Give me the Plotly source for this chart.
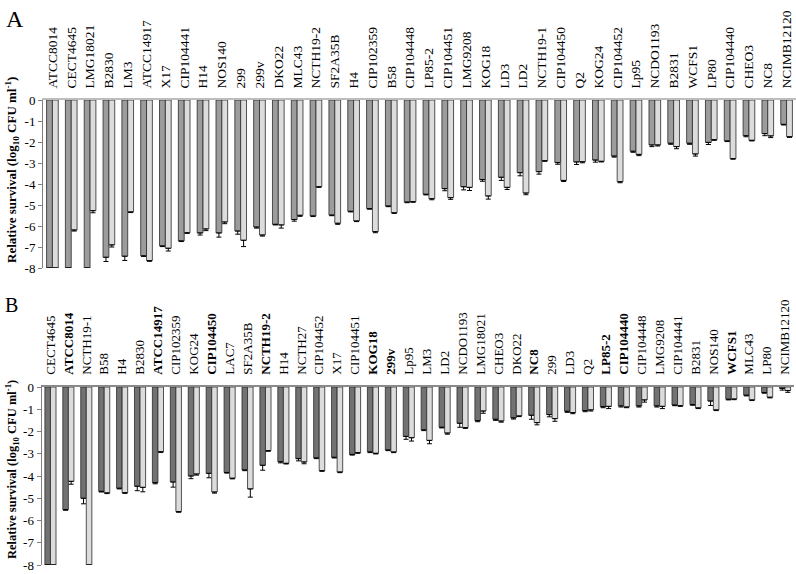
import plotly.graph_objects as go

# ---------------- Panel A data ----------------
names_A = ["ATCC8014", "CECT4645", "LMG18021", "B2830", "LM3", "ATCC14917", "X17", "CIP104441",
           "H14", "NOS140", "299", "299v", "DKO22", "MLC43", "NCTH19-2", "SF2A35B", "H4",
           "CIP102359", "B58", "CIP104448", "LP85-2", "CIP104451", "LMG9208", "KOG18", "LD3",
           "LD2", "NCTH19-1", "CIP104450", "Q2", "KOG24", "CIP104452", "Lp95", "NCDO1193",
           "B2831", "WCFS1", "LP80", "CIP104440", "CHEO3", "NC8", "NCIMB12120"]
dark_A = [-8, -8, -8, -7.49, -7.44, -7.42, -6.95, -6.71, -6.33, -6.33, -6.24, -6.05, -5.92,
          -5.69, -5.52, -5.48, -5.30, -5.17, -5.05, -4.86, -4.49, -4.22, -4.13, -3.79, -3.68,
          -3.46, -3.41, -2.98, -2.95, -2.86, -2.67, -2.44, -2.14, -2.06, -2.06, -2.02, -1.95,
          -1.70, -1.60, -1.16]
light_A = [-8, -6.19, -5.27, -6.90, -5.33, -7.65, -7.06, -6.32, -6.14, -5.81, -6.68, -6.43,
           -5.95, -5.49, -4.13, -5.87, -5.76, -6.27, -5.37, -4.84, -4.70, -4.65, -4.16, -4.57,
           -4.16, -4.43, -2.89, -3.83, -2.94, -2.92, -3.89, -2.59, -2.14, -2.22, -2.57, -1.89,
           -2.79, -1.92, -1.71, -1.75]
err_dark_A = [0, 0, 0, 0.2, 0.2, 0.03, 0.03, 0.03, 0.1, 0.2, 0.15, 0.05, 0.03, 0.08, 0.03,
              0.03, 0.03, 0.03, 0.03, 0.03, 0.03, 0.1, 0.15, 0.08, 0.15, 0.15, 0.12, 0.08,
              0.12, 0.1, 0.05, 0.05, 0.08, 0.05, 0.05, 0.1, 0.03, 0.05, 0.1, 0.03]
err_light_A = [0, 0.05, 0.1, 0.1, 0.03, 0.03, 0.13, 0.03, 0.08, 0.08, 0.3, 0.05, 0.15, 0.05,
               0.03, 0.05, 0.03, 0.05, 0.03, 0.03, 0.05, 0.08, 0.15, 0.15, 0.1, 0.08, 0.03,
               0.05, 0.05, 0.03, 0.05, 0.06, 0.05, 0.1, 0.1, 0.03, 0.03, 0.03, 0.08, 0.03]

# ---------------- Panel B data ----------------
names_B = ["CECT4645", "ATCC8014", "NCTH19-1", "B58", "H4", "B2830", "ATCC14917", "CIP102359",
           "KOG24", "CIP104450", "LAC7", "SF2A35B", "NCTH19-2", "H14", "NCTH27", "CIP104452",
           "X17", "CIP104451", "KOG18", "299v", "Lp95", "LM3", "LD2", "NCDO1193", "LMG18021",
           "CHEO3", "DKO22", "NC8", "299", "LD3", "Q2", "LP85-2", "CIP104440", "CIP104448",
           "LMG9208", "CIP104441", "B2831", "NOS140", "WCFS1", "MLC43", "LP80", "NCIMB12120"]
bold_B = ["ATCC8014", "ATCC14917", "CIP104450", "NCTH19-2", "KOG18", "299v", "NC8",
          "LP85-2", "CIP104440", "WCFS1"]
dark_B = [-8, -5.51, -5.00, -4.69, -4.55, -4.46, -4.30, -4.27, -4.00, -3.88, -3.84, -3.73,
          -3.52, -3.36, -3.22, -3.19, -3.16, -3.03, -2.92, -2.83, -2.22, -1.93, -1.81, -1.63,
          -1.51, -1.45, -1.39, -1.27, -1.24, -1.09, -1.06, -0.88, -0.85, -0.85, -0.85, -0.81,
          -0.79, -0.63, -0.55, -0.37, -0.25, -0.06]
light_B = [-8, -4.24, -8, -4.76, -4.75, -4.51, -2.91, -5.60, -3.91, -4.72, -4.10, -4.58,
           -2.86, -3.43, -3.37, -3.76, -3.82, -2.95, -2.98, -2.92, -2.28, -2.40, -2.07, -1.83,
           -1.08, -1.53, -1.30, -1.60, -1.42, -1.15, -1.03, -0.87, -0.90, -0.58, -0.87, -0.84,
           -0.94, -1.03, -0.54, -0.58, -0.46, -0.16]
err_dark_B = [0, 0.03, 0.25, 0.03, 0.03, 0.2, 0.05, 0.23, 0.12, 0.2, 0.03, 0.03, 0.22, 0.05,
              0.1, 0.03, 0.03, 0.03, 0.03, 0.03, 0.13, 0.03, 0.03, 0.18, 0.05, 0.05, 0.05,
              0.18, 0.1, 0.05, 0.05, 0.05, 0.05, 0.05, 0.05, 0.03, 0.03, 0.2, 0.03, 0.03,
              0.03, 0.08]
err_light_B = [0, 0.13, 0, 0.03, 0.03, 0.2, 0.03, 0.03, 0.05, 0.05, 0.03, 0.37, 0.03, 0.03,
               0.08, 0.03, 0.03, 0.03, 0.03, 0.03, 0.15, 0.15, 0.05, 0.03, 0.1, 0.05, 0.03,
               0.1, 0.12, 0.05, 0.05, 0.1, 0.03, 0.1, 0.1, 0.03, 0.03, 0.03, 0.03, 0.03, 0.03,
               0.08]

y_ticks = [0, -1, -2, -3, -4, -5, -6, -7, -8]

W, H = 796, 574
FONT = "Liberation Serif, Times New Roman, serif"
EDGE = dict(color="#2a2a2a", width=0.8)


def err(arr):
    return dict(type="data", symmetric=False, array=[0] * len(arr), arrayminus=arr,
                color="#000000", thickness=1, width=2.5)


fig = go.Figure()
fig.add_bar(x=names_A, y=dark_A, marker=dict(color="#9c9c9c", line=EDGE),
            error_y=err(err_dark_A), xaxis="x", yaxis="y", showlegend=False)
fig.add_bar(x=names_A, y=light_A, marker=dict(color="#dcdcdc", line=EDGE),
            error_y=err(err_light_A), xaxis="x", yaxis="y", showlegend=False)
fig.add_bar(x=names_B, y=dark_B, marker=dict(color="#727272", line=EDGE),
            error_y=err(err_dark_B), xaxis="x2", yaxis="y2", showlegend=False)
fig.add_bar(x=names_B, y=light_B, marker=dict(color="#dcdcdc", line=EDGE),
            error_y=err(err_light_B), xaxis="x2", yaxis="y2", showlegend=False)

text_B = ["<b>%s</b>" % n if n in bold_B else n for n in names_B]


def ypx(p):
    return 1 - p / H


yaxis_common = dict(range=[-8, 0], tickvals=y_ticks, ticktext=[str(v) for v in y_ticks],
                    showgrid=False, zeroline=False, showline=True, linecolor="#808080",
                    linewidth=1, ticks="outside", ticklen=4, tickcolor="#808080",
                    automargin=False,
                    tickfont=dict(family=FONT, size=13, color="#000"), fixedrange=True)

fig.update_layout(
    width=W, height=H,
    margin=dict(l=0, r=0, t=0, b=0, autoexpand=False),
    paper_bgcolor="white", plot_bgcolor="white",
    barmode="group", bargap=0.38, bargroupgap=0,
    font=dict(family=FONT, color="#000"),
    xaxis=dict(domain=[43 / W, 796 / W], anchor="y", side="top", type="category",
               categoryorder="array", categoryarray=names_A, automargin=False,
               showline=True, linecolor="#bdbdbd", linewidth=1.5, ticks="",
               tickangle=-90, ticklabelstandoff=7,
               tickfont=dict(family=FONT, size=13.5, color="#000"), showgrid=False),
    yaxis=dict(domain=[ypx(268), ypx(100)], anchor="x", **yaxis_common),
    xaxis2=dict(domain=[41.5 / W, 794 / W], anchor="y2", side="top", type="category",
                categoryorder="array", categoryarray=names_B, automargin=False,
                tickvals=names_B, ticktext=text_B,
                showline=True, linecolor="#8a8a8a", linewidth=1.5, ticks="",
                tickangle=-90, ticklabelstandoff=8,
                tickfont=dict(family=FONT, size=13, color="#000"), showgrid=False),
    yaxis2=dict(domain=[ypx(565), ypx(387)], anchor="x2", **yaxis_common),
)

title_txt = "<b>Relative survival (log<sub>10</sub> CFU ml<sup>-1</sup>)</b>"
fig.add_annotation(text=title_txt, textangle=-90, xref="paper", yref="paper",
                   x=12 / W, y=ypx(170), showarrow=False, xanchor="center", yanchor="middle",
                   font=dict(family=FONT, size=13, color="#000"))
fig.add_annotation(text=title_txt, textangle=-90, xref="paper", yref="paper",
                   x=12 / W, y=ypx(470), showarrow=False, xanchor="center", yanchor="middle",
                   font=dict(family=FONT, size=12.5, color="#000"))
fig.add_annotation(text="A", xref="paper", yref="paper", x=4 / W, y=ypx(4),
                   showarrow=False, xanchor="left", yanchor="top",
                   font=dict(family=FONT, size=24, color="#000"))
fig.add_annotation(text="B", xref="paper", yref="paper", x=3 / W, y=ypx(292),
                   showarrow=False, xanchor="left", yanchor="top",
                   font=dict(family=FONT, size=20, color="#000"))

fig.write_html("out.html", config={"displayModeBar": False},
               post_script="document.body.style.margin='0';"
                           "document.body.style.overflow='hidden';")
